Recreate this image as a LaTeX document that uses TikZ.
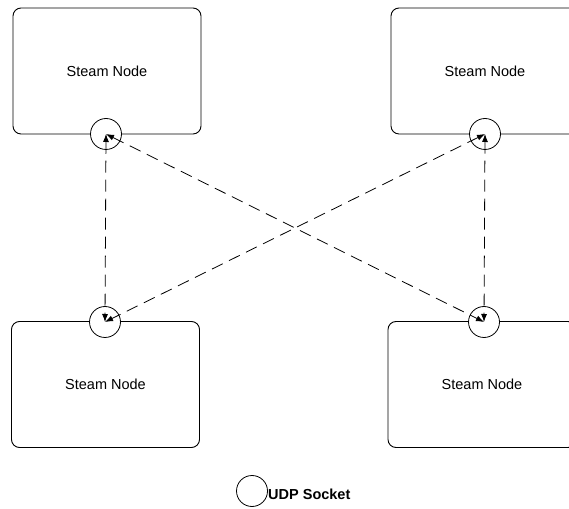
\documentclass[tikz,border=0pt]{standalone}
\usepackage{fontspec}
\setmainfont{Liberation Sans}
\usetikzlibrary{arrows.meta}
\begin{document}
\begin{tikzpicture}[x=1pt,y=1pt,
  stbox/.style={draw, line width=0.9pt, rounded corners=8pt,
    minimum width=188pt, minimum height=126pt, inner sep=0pt,
    font=\fontsize{14.5}{17}\selectfont},
  sock/.style={draw, circle, fill=white, line width=0.8pt,
    minimum size=31pt, inner sep=0pt},
  link/.style={line width=0.8pt, dash pattern=on 12pt off 7pt,
    {Latex[length=8pt,width=6pt]}-{Latex[length=8pt,width=6pt]}}
]
\clip (0,0) rectangle (569,508);
\useasboundingbox (0,0) rectangle (569,508);

% the four steam nodes
\node[stbox] (n1) at (107,437) {Steam Node};
\node[stbox] (n2) at (485,437) {Steam Node};
\node[stbox] (n3) at (105.5,123.5) {Steam Node};
\node[stbox] (n4) at (482,123.5) {Steam Node};

% UDP sockets on the box edges
\node[sock] (s1) at (106,374) {};
\node[sock] (s2) at (485,374) {};
\node[sock] (s3) at (105,186) {};
\node[sock] (s4) at (484,186) {};

% links between sockets
\draw[link] (s1.center) -- (s3.center);
\draw[link] (s2.center) -- (s4.center);
\draw[link] (s1.center) -- (s4.center);
\draw[link] (s2.center) -- (s3.center);

% legend
\node[sock] (leg) at (252,17) {};
\node[anchor=west, inner sep=0pt, font=\bfseries\fontsize{14.5}{17}\selectfont]
  (legtxt) at (268,14) {UDP Socket};
\end{tikzpicture}
\end{document}
